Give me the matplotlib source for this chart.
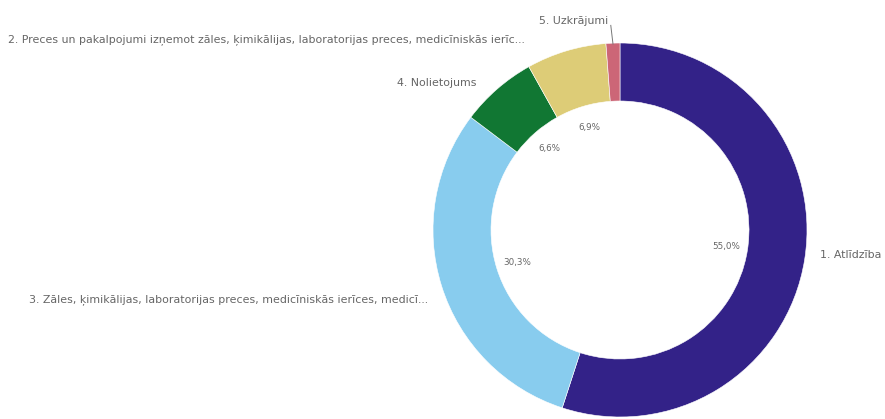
import numpy as np
import matplotlib
matplotlib.use("Agg")
import matplotlib.pyplot as plt

# Expense categories, in drawing order (clockwise from 12 o'clock)
categories = [
    "1. Atlīdzība",
    "3. Zāles, ķimikālijas, laboratorijas preces, medicīniskās ierīces, medicī...",
    "4. Nolietojums",
    "2. Preces un pakalpojumi izņemot zāles, ķimikālijas, laboratorijas preces, medicīniskās ierīc...",
    "5. Uzkrājumi",
]
shares = [55.0, 30.3, 6.6, 6.9, 1.2]
colors = ["#332288", "#88CCEE", "#117733", "#DDCC77", "#CC6677"]

W, H = 885, 419
plt.rcParams["font.family"] = ["DejaVu Sans"]
fig = plt.figure(figsize=(W / 100, H / 100), dpi=100)
ax = fig.add_axes([0, 0, 1, 1])

# ring geometry in pixel units (y measured from the bottom)
cx, cy, R = 620, H - 230, 187
ring = 58

txt_color = "#666666"


def fmt(p):
    # small slices get no inner value label
    if p < 2:
        return ""
    return f"{p:.1f}".replace(".", ",") + "%"


wedges, _, autotexts = ax.pie(
    shares,
    colors=colors,
    startangle=90,
    counterclock=False,
    radius=R,
    center=(cx, cy),
    wedgeprops=dict(width=ring, edgecolor="white", linewidth=0.4),
    autopct=fmt,
    pctdistance=0.575,
    textprops=dict(color=txt_color, fontsize=6.3),
    frame=False,
)

ax.set_xlim(0, W)
ax.set_ylim(0, H)
ax.set_aspect("auto")
ax.set_axis_off()

lab_kw = dict(color=txt_color, fontsize=7.9, va="center")
ax.text(820, H - 255, categories[0], ha="left", **lab_kw)
ax.text(428, H - 300, categories[1], ha="right", **lab_kw)
ax.text(397, H - 83, categories[2], ha="left", **lab_kw)
ax.text(8, H - 40, categories[3], ha="left", **lab_kw)
ax.text(608, H - 21, categories[4], ha="right", **lab_kw)

# leader line for the thin last slice
w = wedges[4]
mid = np.deg2rad((w.theta1 + w.theta2) / 2)
r0, r1 = R * 0.995, R * 1.095
ax.plot([cx + r0 * np.cos(mid), cx + r1 * np.cos(mid) - 1.5],
        [cy + r0 * np.sin(mid), cy + r1 * np.sin(mid)],
        color="#777777", lw=0.7)

fig.savefig("out.png", dpi=100)
